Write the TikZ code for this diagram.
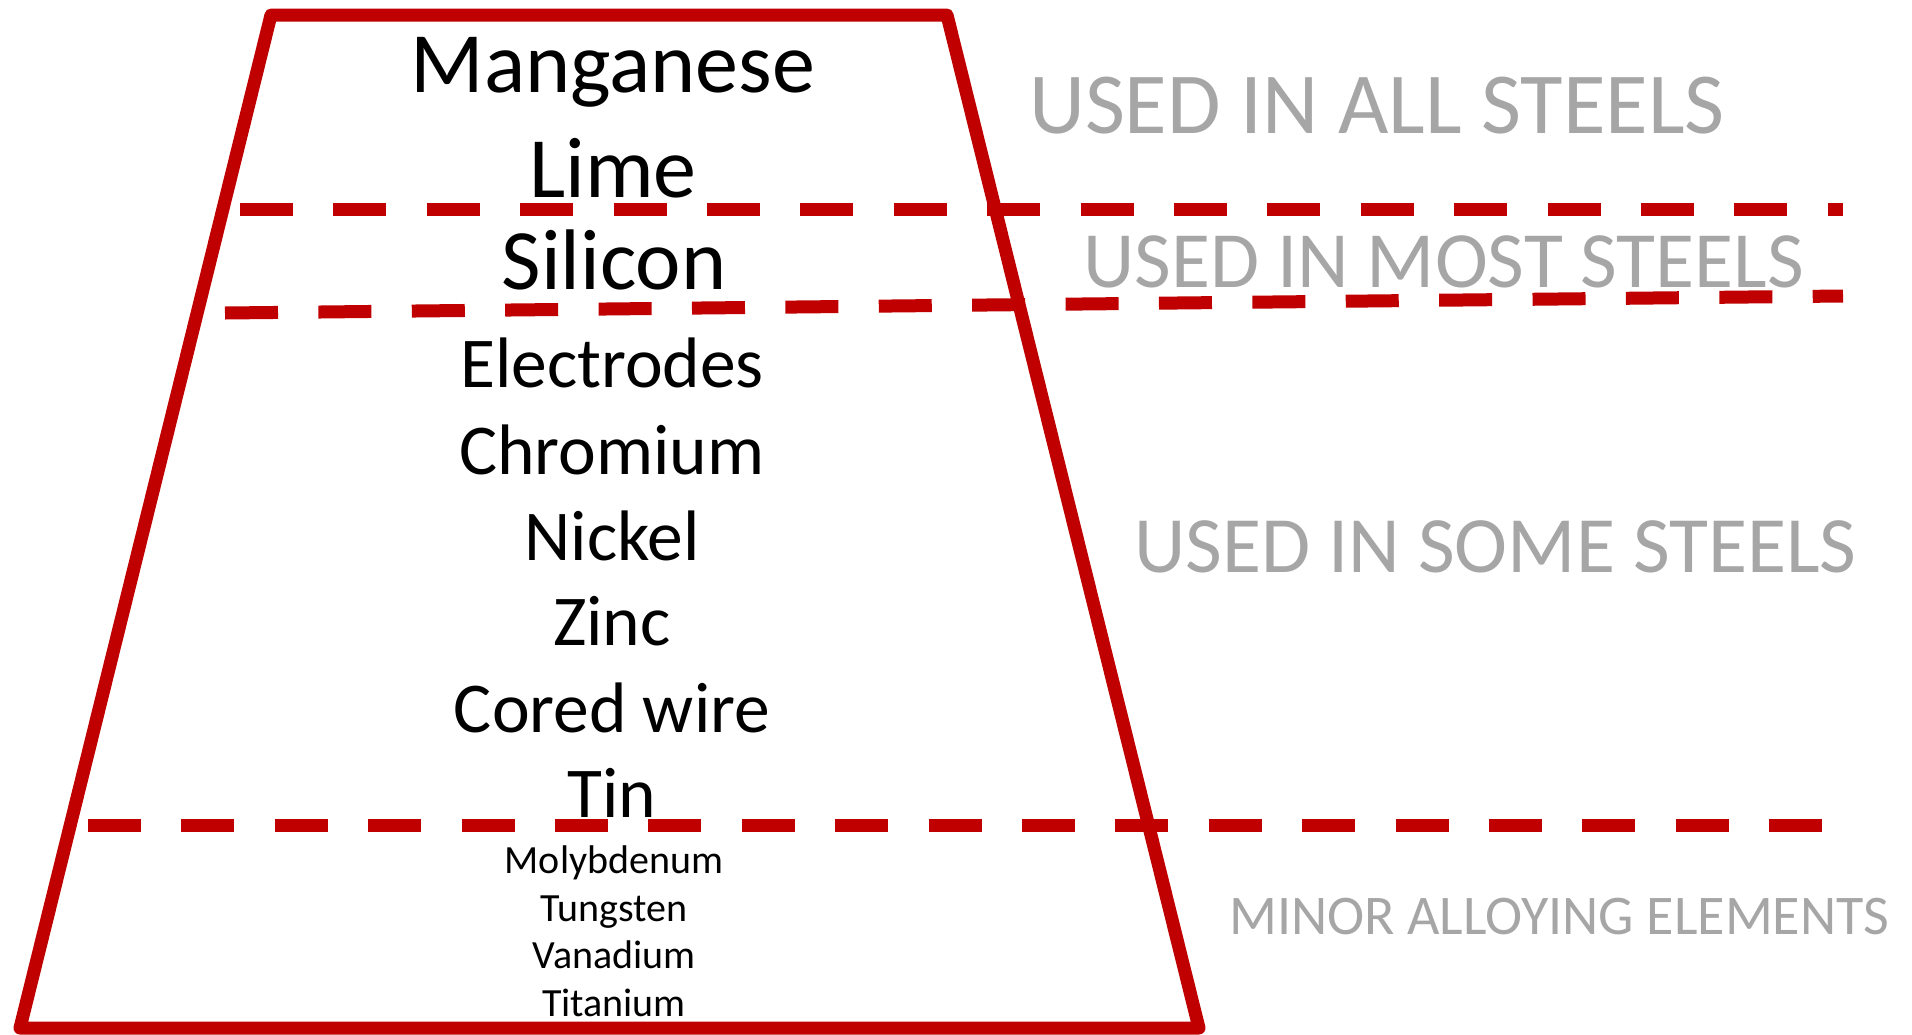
\documentclass[tikz,border=0pt]{standalone}
\usepackage{fontspec}
\setmainfont{Carlito}
\definecolor{steelred}{HTML}{C00000}
\definecolor{labelgray}{HTML}{A6A6A6}
\tikzset{
  frame/.style={draw=steelred, line width=13pt, line join=round},
  divider/.style={draw=steelred, line width=13pt, line cap=butt, dash pattern=on 53pt off 40.4pt},
  big/.style={anchor=base, inner sep=0pt, font=\fontsize{86}{90}\selectfont},
  mid/.style={anchor=base, inner sep=0pt, font=\fontsize{71.5}{76}\selectfont},
  small/.style={anchor=base, inner sep=0pt, font=\fontsize{40}{44}\selectfont},
  tier/.style={anchor=base west, inner sep=0pt, text=labelgray},
}
\begin{document}
\begin{tikzpicture}[x=1pt, y=-1pt]
  \useasboundingbox (0,0) rectangle (1912,1034);

  % pyramid outline
  \coordinate (tl) at (271,15);
  \coordinate (tr) at (947,15);
  \coordinate (br) at (1199,1028);
  \coordinate (bl) at (20,1028);
  \draw[frame] (tl) -- (tr) -- (br) -- (bl) -- cycle;

  % tier dividers
  \coordinate (d1a) at (240,209.5);
  \coordinate (d1b) at (1843,209.5);
  \coordinate (d2a) at (225,313);
  \coordinate (d2b) at (1843,296);
  \coordinate (d3a) at (88,825);
  \coordinate (d3b) at (1822,825);
  \draw[divider] (d1a) -- (d1b);
  \draw[divider] (d2a) -- (d2b);
  \draw[divider] (d3a) -- (d3b);

  % materials used in all steels
  \node[big] (mn) at (613,92) {Manganese};
  \node[big] (lime) at (613,197) {Lime};
  % most steels
  \node[big] (si) at (614,289) {Silicon};
  % some steels
  \node[mid] (el) at (612,387) {Electrodes};
  \node[mid] (cr) at (612,474) {Chromium};
  \node[mid] (ni) at (612,560) {Nickel};
  \node[mid] (zn) at (612,645) {Zinc};
  \node[mid] (cw) at (612,732) {Cored wire};
  \node[mid] (sn) at (612,817) {Tin};
  % minor alloying elements
  \node[small] (mo) at (614,873) {Molybdenum};
  \node[small] (w) at (614,921) {Tungsten};
  \node[small] (v) at (614,968) {Vanadium};
  \node[small] (ti) at (614,1016) {Titanium};

  % tier labels
  \node[tier, font=\fontsize{87}{90}\selectfont] (all) at (1029,133) {USED IN ALL STEELS};
  \node[tier, font=\fontsize{79.8}{84}\selectfont] (most) at (1083,287) {USED IN MOST STEELS};
  \node[tier, font=\fontsize{79.9}{84}\selectfont] (some) at (1134,572) {USED IN SOME STEELS};
  \node[tier, font=\fontsize{56}{60}\selectfont] (minor) at (1229,934) {MINOR ALLOYING ELEMENTS};
\end{tikzpicture}
\end{document}
